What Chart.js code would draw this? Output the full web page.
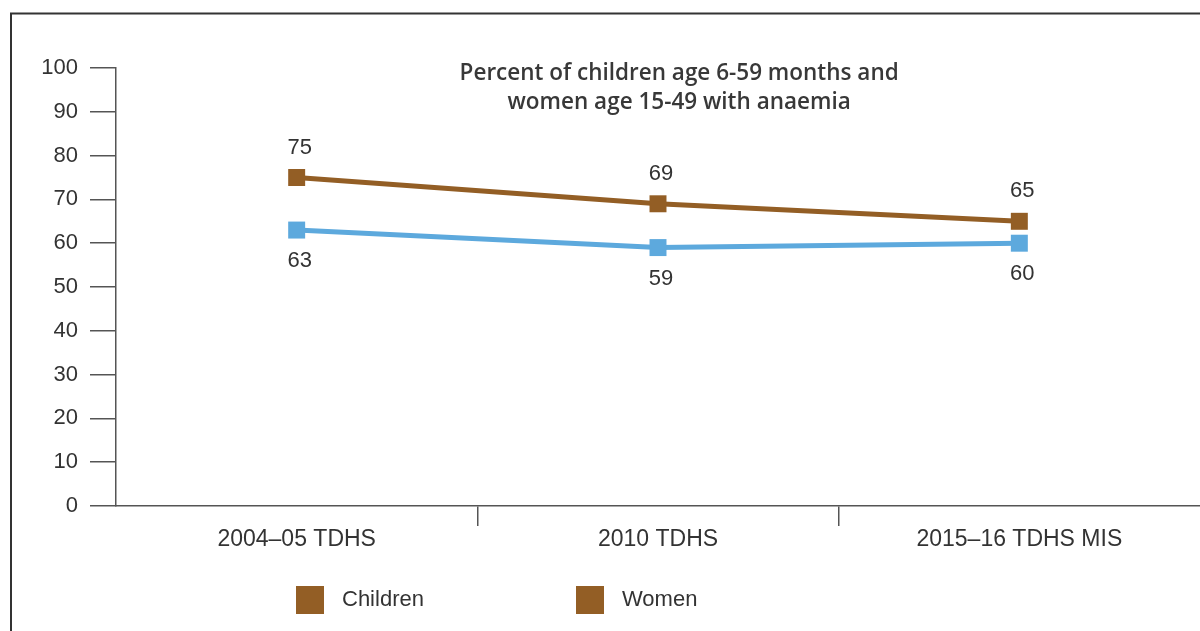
<!DOCTYPE html>
<html>
<head>
<meta charset="utf-8">
<script src="https://cdn.jsdelivr.net/npm/chart.js@4.4.1/dist/chart.umd.min.js"></script>
<style>
  html, body { margin: 0; padding: 0; background: #fff; }
  canvas { display: block; }
</style>
</head>
<body>
<canvas id="c" width="1200" height="631"></canvas>
<script>
// Survey rounds and anaemia prevalence (%)
const categories = ['2004\u201305 TDHS', '2010 TDHS', '2015\u201316 TDHS MIS'];
const childrenValues = [75, 69, 65];
const womenValues = [63, 59, 60];
const seriesNames = ['Children', 'Women'];
const yTicks = [0, 10, 20, 30, 40, 50, 60, 70, 80, 90, 100];
const titleLines = ['Percent of children age 6-59 months and', 'women age 15-49 with anaemia'];

const BROWN = '#935E25';
const BLUE = '#5DA9DD';
const TEXT = '#333333';
const AXIS = '#555555';

// Outer frame of the figure panel
const framePlugin = {
  id: 'frame',
  beforeDraw(chart) {
    const ctx = chart.ctx;
    ctx.save();
    ctx.strokeStyle = '#333';
    ctx.lineWidth = 2;
    ctx.beginPath();
    ctx.moveTo(11, 640);
    ctx.lineTo(11, 13.5);
    ctx.lineTo(1210, 13.5);
    ctx.stroke();
    ctx.restore();
  }
};

// Two-line heading inside the plot area
const headingPlugin = {
  id: 'heading',
  afterDraw(chart) {
    const ctx = chart.ctx;
    const a = chart.chartArea;
    ctx.save();
    ctx.fillStyle = '#383838';
    ctx.font = '600 22.5px "Open Sans"';
    ctx.textAlign = 'center';
    ctx.textBaseline = 'middle';
    const cx = a.left + (a.right - a.left) * 0.5195;
    titleLines.forEach((t, i) => ctx.fillText(t, cx, 74 + i * 29));
    ctx.restore();
  }
};

// Value labels: first series above its markers, second series below
const valueLabelPlugin = {
  id: 'valueLabels',
  afterDatasetsDraw(chart) {
    const ctx = chart.ctx;
    ctx.save();
    ctx.fillStyle = TEXT;
    ctx.font = '22px "Liberation Sans"';
    ctx.textAlign = 'center';
    ctx.textBaseline = 'middle';
    chart.data.datasets.forEach((ds, di) => {
      const meta = chart.getDatasetMeta(di);
      meta.data.forEach((pt, i) => {
        const dy = di === 0 ? -30 : 31;
        ctx.fillText(String(ds.data[i]), pt.x + 3, pt.y + dy);
      });
    });
    ctx.restore();
  }
};

// Legend row below the category axis
const legendPlugin = {
  id: 'legendRow',
  afterDraw(chart) {
    const ctx = chart.ctx;
    const a = chart.chartArea;
    const xs = [a.left + 180, a.left + 460];
    ctx.save();
    ctx.font = '22px "Liberation Sans"';
    ctx.textAlign = 'left';
    ctx.textBaseline = 'middle';
    chart.data.datasets.forEach((ds, i) => {
      ctx.fillStyle = BROWN;
      ctx.fillRect(xs[i], 586, 28, 28);
      ctx.fillStyle = TEXT;
      ctx.fillText(ds.label, xs[i] + 46, 600);
    });
    ctx.restore();
  }
};

new Chart(document.getElementById('c'), {
  type: 'line',
  data: {
    labels: categories,
    datasets: [
      {
        label: seriesNames[0],
        data: childrenValues,
        borderColor: BROWN,
        backgroundColor: BROWN,
        borderWidth: 5,
        pointStyle: 'rect',
        pointRadius: 12,
        pointBorderWidth: 0,
        pointBackgroundColor: BROWN,
        tension: 0
      },
      {
        label: seriesNames[1],
        data: womenValues,
        borderColor: BLUE,
        backgroundColor: BLUE,
        borderWidth: 5,
        pointStyle: 'rect',
        pointRadius: 12,
        pointBorderWidth: 0,
        pointBackgroundColor: BLUE,
        tension: 0
      }
    ]
  },
  options: {
    responsive: false,
    animation: false,
    layout: { autoPadding: false, padding: { top: 68, left: 0, right: 0, bottom: 0 } },
    plugins: {
      legend: { display: false },
      tooltip: { enabled: false },
      title: { display: false }
    },
    scales: {
      x: {
        offset: true,
        grid: {
          offset: true,
          drawOnChartArea: false,
          drawTicks: true,
          tickLength: 20,
          lineWidth: 1.5,
          color: (c) => (typeof c.index !== 'number' || c.index === 0 || c.index >= categories.length) ? 'rgba(0,0,0,0)' : AXIS
        },
        border: { display: true, color: AXIS, width: 1.5 },
        ticks: {
          color: TEXT,
          font: { family: '"Liberation Sans"', size: 23 },
          padding: 0,
          maxRotation: 0
        },
        afterFit(scale) {
          scale.height = 125;
          scale.paddingLeft = 0;
          scale.paddingRight = 0;
        }
      },
      y: {
        min: 0,
        max: 100,
        afterBuildTicks(scale) { scale.ticks = yTicks.map(v => ({ value: v })); },
        grid: {
          drawOnChartArea: false,
          drawTicks: true,
          tickLength: 26,
          lineWidth: 1.5,
          color: AXIS
        },
        border: { display: true, color: AXIS, width: 1.5 },
        ticks: {
          color: TEXT,
          font: { family: '"Liberation Sans"', size: 22 },
          padding: 12
        },
        afterFit(scale) { scale.width = 116; }
      }
    }
  },
  plugins: [framePlugin, headingPlugin, valueLabelPlugin, legendPlugin]
});
</script>
</body>
</html>
